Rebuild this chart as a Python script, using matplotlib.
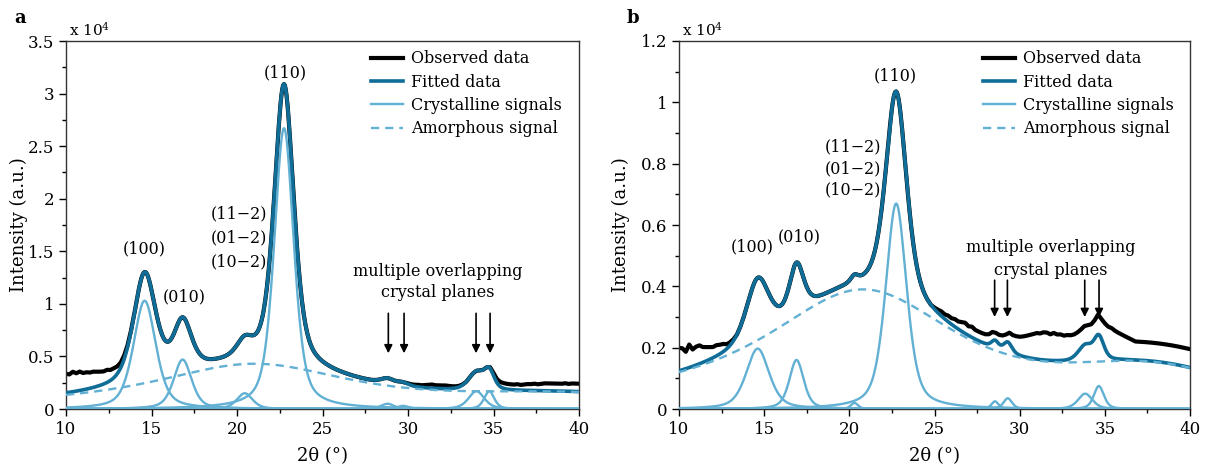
import numpy as np
import matplotlib
matplotlib.use("Agg")
import matplotlib.pyplot as plt
from matplotlib.ticker import MultipleLocator, FuncFormatter

# =========================
# fonts / colours
# =========================
plt.rcParams['font.family'] = ['DejaVu Serif']
plt.rcParams['mathtext.fontset'] = 'dejavuserif'

c_obs = '#000000'
c_fit = '#0f6d97'
c_cry = '#62b0d3'

# =========================
# peak parameters (intensity in 1e4)
# =========================
# panel a
a_cry_center = [14.6, 16.82, 20.45, 22.75, 28.8, 29.7, 34.0, 34.75]
a_cry_height = [1.03, 0.47, 0.15, 2.67, 0.05, 0.03, 0.17, 0.17]
a_cry_fwhm = [1.55, 1.25, 1.1, 1.35, 0.9, 0.8, 1.1, 0.7]
a_am_center = [21.0, 40.0]
a_am_height = [0.43, 0.105]
a_am_fwhm = [14.8, 14.1]
a_am_eta = [1.0, 0.0]

# panel b
b_cry_center = [14.62, 16.9, 20.3, 22.75, 28.55, 29.3, 33.85, 34.65]
b_cry_height = [0.197, 0.16, 0.02, 0.67, 0.025, 0.035, 0.05, 0.075]
b_cry_fwhm = [1.6, 1.0, 0.5, 1.45, 0.5, 0.6, 1.0, 0.7]
b_am_center = [20.8, 38.0]
b_am_height = [0.39, 0.095]
b_am_fwhm = [14.4, 10.6]
b_am_eta = [1.0, 0.0]

cry_eta = 0.5

# observed - fitted differences, read where black and blue curves separate
# low angle part: 10.0 .. 13.8 step 0.2
a_off_low = [0.18, 0.17, 0.19, 0.17, 0.18, 0.16, 0.16, 0.15, 0.15, 0.14,
             0.13, 0.12, 0.12, 0.10, 0.09, 0.07, 0.05, 0.035, 0.02, 0.01]
b_off_low = [0.075, 0.07, 0.055, 0.075, 0.055, 0.06, 0.06, 0.05, 0.045, 0.04,
             0.035, 0.035, 0.03, 0.025, 0.015, 0.01, 0.005, 0.0, 0.0, 0.0]
# high angle part: 24.8 .. 40.0 step 0.2
a_off_high = [0, 0, 0, 0, 0, 0, 0, 0, 0, 0,
              0, 0, 0, 0, 0, 0, 0, 0, 0, 0,
              0, 0, 0, 0, 0, 0,
              0.005, 0.01, 0.015, 0.02, 0.02, 0.025, 0.03, 0.035, 0.03, 0.03,
              0.03, 0.03, 0.025, 0.02, 0.015, 0.01, 0.005, 0, 0, 0,
              0, 0, 0, 0, 0.01, 0.025, 0.035, 0.045, 0.05, 0.05,
              0.05, 0.05, 0.055, 0.05, 0.055, 0.06, 0.06, 0.065, 0.06, 0.065,
              0.07, 0.07, 0.07, 0.07, 0.07, 0.07, 0.075, 0.07, 0.075, 0.075,
              0.075]
b_off_high = [0.0, 0.005, 0.01, 0.015, 0.015, 0.02, 0.02, 0.025, 0.025, 0.03,
              0.035, 0.03, 0.035, 0.03, 0.03, 0.03, 0.03, 0.03, 0.03, 0.025,
              0.03, 0.03, 0.025, 0.035, 0.045, 0.055,
              0.06, 0.065, 0.07, 0.075, 0.08, 0.085, 0.085, 0.09, 0.09, 0.085,
              0.09, 0.085, 0.085, 0.08, 0.08, 0.075, 0.07, 0.065, 0.06, 0.06,
              0.06, 0.06, 0.06, 0.065, 0.065, 0.08, 0.09, 0.095, 0.09, 0.085,
              0.08, 0.075, 0.07, 0.065, 0.06, 0.06, 0.06, 0.06, 0.06, 0.06,
              0.06, 0.06, 0.06, 0.06, 0.06, 0.06, 0.06, 0.06, 0.06, 0.06,
              0.06]

# annotation positions (x in deg, y in 1e4)
a_labels = [("(100)", 14.6, 1.52), ("(010)", 16.9, 1.07), ("(11\u22122)", 20.1, 1.86),
            ("(01\u22122)", 20.1, 1.63), ("(10\u22122)", 20.1, 1.40), ("(110)", 22.8, 3.20),
            ("multiple overlapping", 31.75, 1.31), ("crystal planes", 31.75, 1.11)]
a_arrow_x = [28.85, 29.77, 33.98, 34.8]
a_arrow_y = (0.91, 0.53)

b_labels = [("(100)", 14.3, 0.53), ("(010)", 17.05, 0.56), ("(11\u22122)", 20.2, 0.854),
            ("(01\u22122)", 20.2, 0.784), ("(10\u22122)", 20.2, 0.714), ("(110)", 22.7, 1.086),
            ("multiple overlapping", 31.8, 0.525), ("crystal planes", 31.8, 0.452)]
b_arrow_x = [28.53, 29.28, 33.82, 34.66]
b_arrow_y = (0.42, 0.30)


def pvoigt(x, c, h, fwhm, eta):
    hw = fwhm / 2.0
    lor = 1.0 / (1.0 + ((x - c) / hw) ** 2)
    gau = np.exp(-np.log(2) * ((x - c) / hw) ** 2)
    return h * (eta * lor + (1 - eta) * gau)


def components(x, cen, hei, fw, am_c, am_h, am_f, am_e):
    cry = [pvoigt(x, c, h, f, cry_eta) for c, h, f in zip(cen, hei, fw)]
    am = sum(pvoigt(x, c, h, f, e) for c, h, f, e in zip(am_c, am_h, am_f, am_e))
    return cry, am


x = np.linspace(10, 40, 1501)
x_low = np.round(np.arange(10.0, 13.85, 0.2), 2)
x_mid = np.round(np.arange(14.0, 24.65, 0.05), 2)
x_high = np.round(np.arange(24.8, 40.05, 0.2), 2)
x_obs = np.concatenate([x_low, x_mid, x_high])

fig = plt.figure(figsize=(12.1, 4.71), dpi=100)
ax_a = fig.add_axes([66 / 1210, 1 - 409 / 471, 513 / 1210, 368 / 471])
ax_b = fig.add_axes([679 / 1210, 1 - 409 / 471, 511 / 1210, 368 / 471])

panels = [
    (ax_a, a_cry_center, a_cry_height, a_cry_fwhm, a_am_center, a_am_height, a_am_fwhm, a_am_eta,
     a_off_low, a_off_high, a_labels, a_arrow_x, a_arrow_y, 3.5, 0.5, 'a', -0.074),
    (ax_b, b_cry_center, b_cry_height, b_cry_fwhm, b_am_center, b_am_height, b_am_fwhm, b_am_eta,
     b_off_low, b_off_high, b_labels, b_arrow_x, b_arrow_y, 1.2, 0.2, 'b', -0.096),
]

for (ax, cen, hei, fw, amc, amh, amf, ame, off_lo, off_hi, labels, arr_x, arr_y,
     ymax, ystep, letter, ylab_x) in panels:
    cry, am = components(x, cen, hei, fw, amc, amh, amf, ame)
    fit = sum(cry) + am

    cry_o, am_o = components(x_obs, cen, hei, fw, amc, amh, amf, ame)
    off = np.concatenate([off_lo, np.zeros(len(x_mid)), off_hi])
    obs = sum(cry_o) + am_o + off

    ax.plot(x_obs, obs, color=c_obs, lw=3.0, label='Observed data', zorder=2)
    ax.plot(x, fit, color=c_fit, lw=2.6, label='Fitted data', zorder=3)
    for i, cc in enumerate(cry):
        ax.plot(x, cc, color=c_cry, lw=1.7, zorder=4,
                label='Crystalline signals' if i == 0 else None)
    ax.plot(x, am, color=c_cry, lw=1.7, ls=(0, (3.5, 2.5)), zorder=4,
            label='Amorphous signal')

    for txt, tx, ty in labels:
        ax.text(tx, ty, txt, ha='center', va='center', fontsize=11.5)
    for xa in arr_x:
        ax.annotate('', xy=(xa, arr_y[1]), xytext=(xa, arr_y[0]),
                    arrowprops=dict(arrowstyle='-|>', color='black', lw=1.2,
                                    mutation_scale=12, shrinkA=0, shrinkB=0))

    ax.set_xlim(10, 40)
    ax.set_ylim(0, ymax)
    ax.xaxis.set_major_locator(MultipleLocator(5))
    ax.xaxis.set_minor_locator(MultipleLocator(2.5))
    ax.yaxis.set_major_locator(MultipleLocator(ystep))
    ax.yaxis.set_minor_locator(MultipleLocator(ystep / 2))
    ax.yaxis.set_major_formatter(FuncFormatter(lambda v, p: f"{v:g}"))
    ax.tick_params(which='both', direction='out', top=False, right=False,
                   labelsize=12, width=1.0)
    ax.tick_params(which='major', length=5)
    ax.tick_params(which='minor', length=3)
    for s in ax.spines.values():
        s.set_linewidth(1.0)
        s.set_color('#333333')

    ax.set_xlabel('2\u03b8 (\u00b0)', fontsize=13, labelpad=7)
    ax.set_ylabel('Intensity (a.u.)', fontsize=13)
    ax.yaxis.set_label_coords(ylab_x, 0.5)
    ax.text(0.005, 1.005, r'x 10$^4$', transform=ax.transAxes, ha='left',
            va='bottom', fontsize=11)

    ax.legend(loc='upper left', bbox_to_anchor=(0.595, 0.975), frameon=False,
              fontsize=11.5, handlelength=2.0, handletextpad=0.5,
              borderpad=0.0, borderaxespad=0.0, labelspacing=0.4)

    pos = ax.get_position()
    fig.text(pos.x0 - 0.043, 0.962, letter, fontsize=13, fontweight='bold',
             ha='left', va='center')

fig.savefig('out.png', dpi=100)
